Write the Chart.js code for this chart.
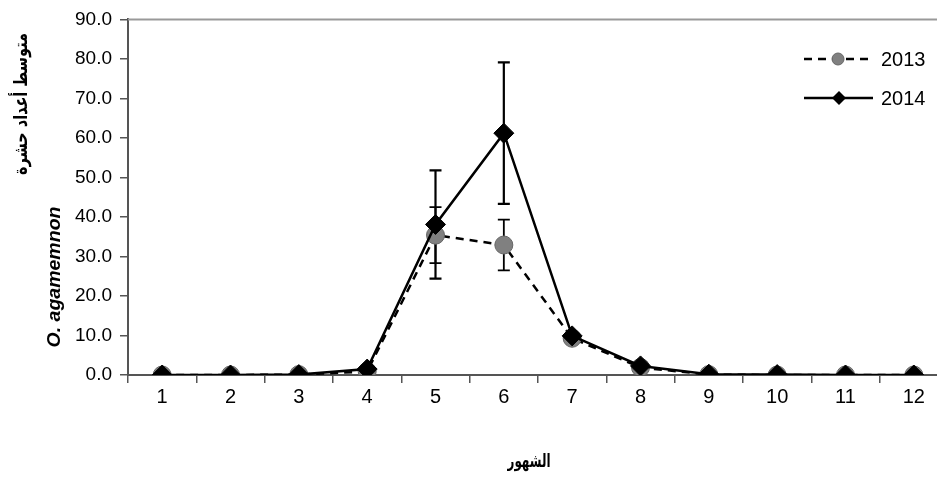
<!DOCTYPE html>
<html>
<head>
<meta charset="utf-8">
<script src="https://cdn.jsdelivr.net/npm/chart.js@4.4.0/dist/chart.umd.min.js"></script>
<style>
  html, body { margin: 0; padding: 0; background: #fff; overflow: hidden; }
</style>
</head>
<body>
<canvas id="myChart" width="937" height="477"></canvas>
<script>
// months on the x axis
const months = ["1", "2", "3", "4", "5", "6", "7", "8", "9", "10", "11", "12"];
// mean counts per month and their error bars
const mean2013 = [0, 0, 0.1, 0.9, 35.4, 32.9, 9.3, 1.9, 0.1, 0, 0, 0];
const err2013 = [0, 0, 0, 0, 7.1, 6.4, 0, 0, 0, 0, 0, 0];
const mean2014 = [0, 0, 0.1, 1.5, 38.1, 61.2, 9.9, 2.3, 0.2, 0.1, 0, 0];
const err2014 = [0, 0, 0, 0, 13.7, 17.9, 0, 0, 0, 0, 0, 0];
const yMin = 0, yMax = 90, yStep = 10;

const AXIS = "#555";
const PLOT_RIGHT = 948; // plot box is cut off by the right edge in the source

// write text squeezed/stretched to a given length
function fitText(ctx, txt, x, y, len, rot) {
    ctx.save();
    ctx.translate(x, y);
    if (rot) ctx.rotate(rot);
    const w = ctx.measureText(txt).width;
    ctx.scale(len / w, 1);
    ctx.fillText(txt, 0, 0);
    ctx.restore();
}

// let the x axis run past the canvas edge
const stretchX = {
    id: "stretchX",
    afterLayout(chart) {
        const xs = chart.scales.x;
        xs.right = PLOT_RIGHT;
        xs.width = xs.right - xs.left;
        chart.chartArea.right = PLOT_RIGHT;
        chart.chartArea.width = PLOT_RIGHT - chart.chartArea.left;
        xs.configure();
    }
};

// error bars, drawn under the markers
const errorBars = {
    id: "errorBars",
    beforeDatasetsDraw(chart) {
        const ctx = chart.ctx;
        const xs = chart.scales.x, ys = chart.scales.y;
        chart.data.datasets.forEach(function (ds) {
            ctx.save();
            ctx.strokeStyle = "#000";
            ctx.lineWidth = ds.errWidth;
            ds.err.forEach(function (e, i) {
                if (!e) return;
                const x = xs.getPixelForValue(i);
                const top = ys.getPixelForValue(ds.data[i] + e);
                const bot = ys.getPixelForValue(ds.data[i] - e);
                ctx.beginPath();
                ctx.moveTo(x, top); ctx.lineTo(x, bot);
                ctx.moveTo(x - 6, top); ctx.lineTo(x + 6, top);
                ctx.moveTo(x - 6, bot); ctx.lineTo(x + 6, bot);
                ctx.stroke();
            });
            ctx.restore();
        });
    }
};

// frame top line, axis titles and legend
const extras = {
    id: "extras",
    afterDraw(chart) {
        const ctx = chart.ctx;
        const a = chart.chartArea;
        ctx.save();
        ctx.strokeStyle = "#999";
        ctx.lineWidth = 2;
        ctx.beginPath();
        ctx.moveTo(a.left, a.top); ctx.lineTo(chart.width, a.top);
        ctx.stroke();

        ctx.fillStyle = "#000";
        ctx.textAlign = "center";
        ctx.textBaseline = "middle";
        ctx.font = "bold 18px 'DejaVu Sans'";
        fitText(ctx, "الشهور", 529, 462, 43, 0);

        ctx.font = "bold 19px 'DejaVu Sans'";
        fitText(ctx, "متوسط أعداد حشرة", 22, 104, 142, -Math.PI / 2);

        ctx.font = "italic bold 19px 'Liberation Sans'";
        fitText(ctx, "O. agamemnon", 55, 277, 141, -Math.PI / 2);

        // legend
        ctx.textAlign = "left";
        ctx.font = "20px 'Liberation Sans'";
        ctx.strokeStyle = "#000";
        ctx.lineWidth = 2.5;
        ctx.setLineDash([8, 6]);
        ctx.beginPath(); ctx.moveTo(804, 59); ctx.lineTo(873, 59); ctx.stroke();
        ctx.setLineDash([]);
        ctx.fillStyle = "#808080";
        ctx.strokeStyle = "#666";
        ctx.lineWidth = 1;
        ctx.beginPath(); ctx.arc(838, 59, 6, 0, Math.PI * 2); ctx.fill(); ctx.stroke();
        ctx.fillStyle = "#000";
        ctx.fillText("2013", 881, 60);

        ctx.strokeStyle = "#000";
        ctx.lineWidth = 2.5;
        ctx.beginPath(); ctx.moveTo(804, 98); ctx.lineTo(873, 98); ctx.stroke();
        ctx.beginPath();
        ctx.moveTo(839, 91); ctx.lineTo(846, 98); ctx.lineTo(839, 105); ctx.lineTo(832, 98);
        ctx.closePath(); ctx.fill();
        ctx.fillText("2014", 881, 99);
        ctx.restore();
    }
};

new Chart("myChart", {
    type: "line",
    data: {
        labels: months,
        datasets: [{
            label: "2013",
            data: mean2013,
            err: err2013,
            errWidth: 1.8,
            borderColor: "#000",
            borderWidth: 2.5,
            borderDash: [8, 6],
            pointStyle: "circle",
            pointRadius: 9,
            pointBackgroundColor: "#808080",
            pointBorderColor: "#666",
            pointBorderWidth: 1,
            fill: false,
            order: 2
        }, {
            label: "2014",
            data: mean2014,
            err: err2014,
            errWidth: 2.2,
            borderColor: "#000",
            borderWidth: 2.5,
            pointStyle: "rectRot",
            pointRadius: 10,
            pointBackgroundColor: "#000",
            pointBorderColor: "#000",
            pointBorderWidth: 1,
            fill: false,
            order: 1
        }]
    },
    options: {
        responsive: false,
        animation: false,
        layout: { padding: { top: 17, left: 0, right: 0, bottom: 0 } },
        plugins: { legend: { display: false }, tooltip: { enabled: false } },
        scales: {
            x: {
                offset: true,
                grid: { offset: true, drawOnChartArea: false, drawTicks: true, tickLength: 8, color: AXIS, lineWidth: 1.5 },
                border: { color: AXIS, width: 2 },
                ticks: { color: "#000", font: { family: "Liberation Sans", size: 20 }, padding: 2, maxRotation: 0 },
                afterFit(s) { s.height = 102; }
            },
            y: {
                min: yMin,
                max: yMax,
                grid: { drawOnChartArea: false, drawTicks: true, tickLength: 8, color: AXIS, lineWidth: 1.5 },
                border: { color: AXIS, width: 2 },
                ticks: {
                    stepSize: yStep,
                    color: "#000",
                    font: { family: "Liberation Sans", size: 19 },
                    padding: 8,
                    callback: function (v) { return v.toFixed(1); }
                },
                afterFit(s) { s.width = 128; }
            }
        }
    },
    plugins: [stretchX, errorBars, extras]
});
</script>
</body>
</html>
